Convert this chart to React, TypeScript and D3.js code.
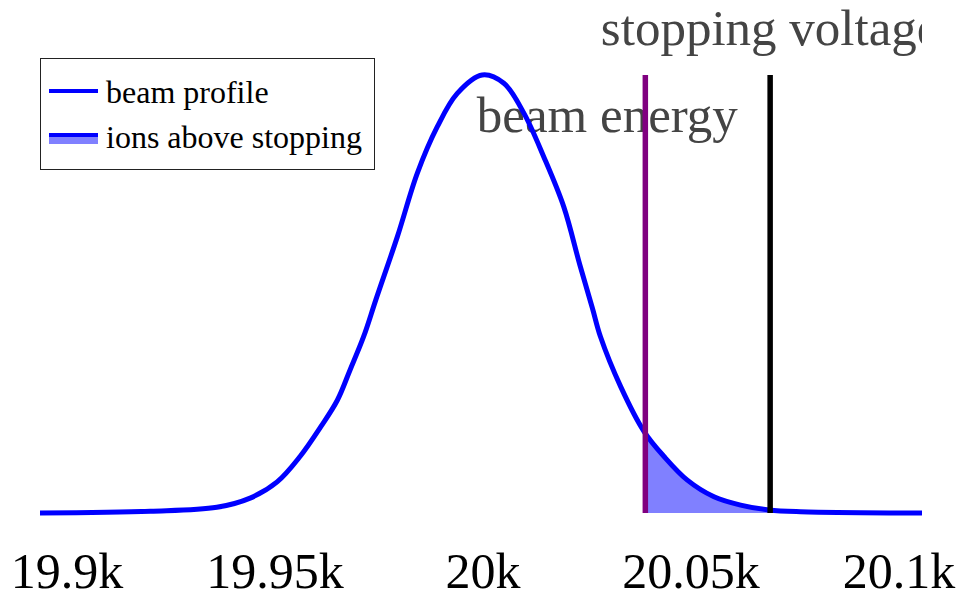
import React from "react";
import * as d3 from "d3";

// Beam energy distribution (eV) and relative intensity
const energy = [
  19893.5, 19920, 19936, 19944, 19950.5, 19956, 19961, 19965, 19968, 19971.3,
  19974.2, 19979.4, 19984.2, 19989, 19993.8, 19999.8, 20005, 20009.8, 20014.6,
  20019.4, 20023.3, 20026.3, 20028.2, 20033.1, 20038.7, 20043.5, 20049.1, 20055.5,
  20061.9, 20068.7, 20076.3, 20105.5,
];
const intensity = [
  0, 0.004, 0.013, 0.034, 0.071, 0.129, 0.197, 0.258, 0.326, 0.403,
  0.486, 0.631, 0.776, 0.882, 0.958, 1.0, 0.981, 0.913, 0.813,
  0.699, 0.565, 0.467, 0.403, 0.288, 0.186, 0.129, 0.075, 0.037,
  0.018, 0.007, 0.003, 0,
];

const beamEnergy = 20039;
const stoppingVoltage = 20069;

const tickValues = [19900, 19950, 20000, 20050, 20100];
const legendLabels = ["beam profile", "ions above stopping"];

const W = 962;
const H = 599;
const left = 40;
const right = 922;
const top = 75;
const bottom = 513;
const serif = "'Liberation Serif', 'Times New Roman', Times, serif";

export default function App() {
  const data = energy.map((e, i) => ({ e, v: intensity[i] }));
  const x = d3.scaleLinear().domain([19893.5, 20105.5]).range([left, right]);
  const y = d3.scaleLinear().domain([0, 1]).range([bottom, top]);

  const line = d3
    .line<{ e: number; v: number }>()
    .x((d) => x(d.e))
    .y((d) => y(d.v))
    .curve(d3.curveCatmullRom.alpha(0.5));
  const area = d3
    .area<{ e: number; v: number }>()
    .x((d) => x(d.e))
    .y0(y(0))
    .y1((d) => y(d.v))
    .curve(d3.curveCatmullRom.alpha(0.5));

  const fmt = d3.format("~s");
  const xb = x(beamEnergy);
  const xs = x(stoppingVoltage);

  return (
    <svg
      width={W}
      height={H}
      style={{ position: "absolute", left: 0, top: 0, background: "#fff" }}
    >
      <defs>
        <clipPath id="shade">
          <rect x={xb} y={0} width={xs - xb} height={H} />
        </clipPath>
        <clipPath id="plotX">
          <rect x={left} y={0} width={right - left} height={H} />
        </clipPath>
      </defs>

      {/* annotation labels */}
      <g clipPath="url(#plotX)" fontFamily={serif} fontSize={51} fill="#444">
        <text x={xs} y={45} textAnchor="middle">
          stopping voltage
        </text>
        <text x={xb - 38} y={132} textAnchor="middle">
          beam energy
        </text>
      </g>

      {/* shaded region between beam energy and stopping voltage */}
      <path d={area(data) ?? ""} fill="#8080ff" clipPath="url(#shade)" />

      {/* beam profile */}
      <path d={line(data) ?? ""} fill="none" stroke="#0000ff" strokeWidth={5} strokeLinejoin="round" />

      {/* reference lines */}
      <line x1={xb} x2={xb} y1={y(1)} y2={y(0)} stroke="#800080" strokeWidth={5.5} />
      <line x1={xs} x2={xs} y1={y(1)} y2={y(0)} stroke="#000" strokeWidth={5.5} />

      {/* x tick labels */}
      <g fontFamily={serif} fontSize={50} fill="#000">
        {tickValues.map((t) => (
          <text key={t} x={x(t)} y={588} textAnchor="middle">
            {fmt(t)}
          </text>
        ))}
      </g>

      {/* legend */}
      <g fontFamily={serif} fontSize={32} fill="#000">
        <rect x={40.5} y={58.5} width={334} height={111} fill="#fff" stroke="#222" strokeWidth={1} />
        <line x1={49} x2={98} y1={91} y2={91} stroke="#0000ff" strokeWidth={4} />
        <text x={106} y={103}>{legendLabels[0]}</text>
        <rect x={49} y={133} width={49} height={11} fill="#8080ff" />
        <line x1={49} x2={98} y1={135} y2={135} stroke="#0000ff" strokeWidth={4} />
        <text x={106} y={148}>{legendLabels[1]}</text>
      </g>
    </svg>
  );
}
